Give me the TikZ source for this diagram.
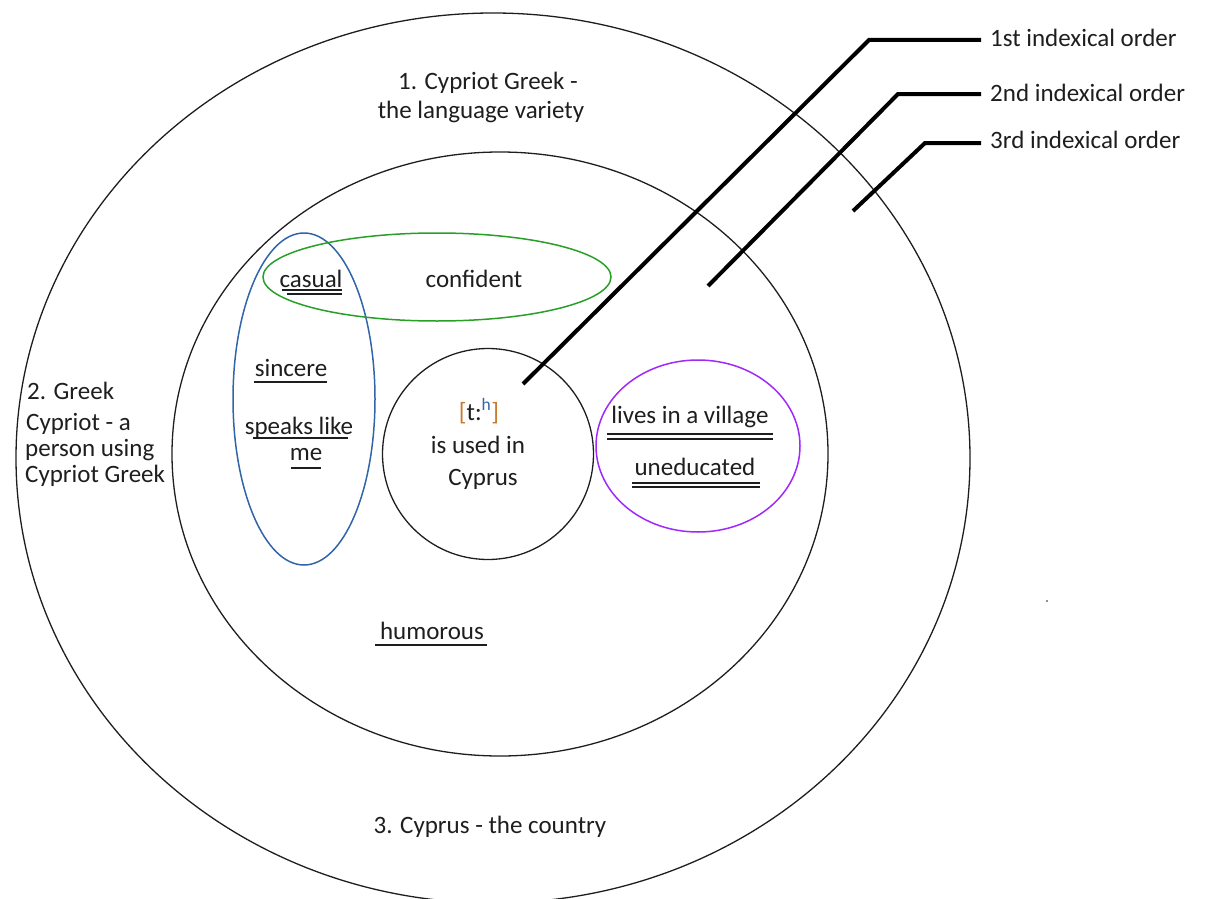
\documentclass[tikz,border=0pt]{standalone}
\usepackage{fontspec}
\setmainfont{Carlito}
\usetikzlibrary{shapes.geometric}
\definecolor{ovblue}{RGB}{50,100,170}
\definecolor{ovgreen}{RGB}{40,160,40}
\definecolor{ovpurple}{RGB}{160,40,250}
\definecolor{brk}{RGB}{200,120,40}
\definecolor{ink}{RGB}{30,30,30}
\begin{document}
\begin{tikzpicture}[x=1pt,y=-1pt,
  font=\fontsize{25}{30}\selectfont, text=ink,
  ring/.style={draw=ink, ellipse, inner sep=0pt, line width=1.3pt},
  oval/.style={draw, ellipse, inner sep=0pt, line width=1.5pt},
  txt/.style={inner sep=0pt, anchor=base},
  lbl/.style={inner sep=0pt, anchor=base west},
  leader/.style={draw=black, line width=4pt},
  uline/.style={draw=ink, line width=1.3pt}]
\clip (0,0) rectangle (1205,899);
% containers
\node[ring, minimum width=954pt, minimum height=890pt] (outer) at (493,458) {};
\node[ring, minimum width=656pt, minimum height=604pt] (inner) at (500,454) {};
\node[ring, circle, minimum size=211pt] (core) at (488,454) {};
\node[oval, draw=ovblue, minimum width=142pt, minimum height=332pt] (blue) at (304,399) {};
\node[oval, draw=ovgreen, minimum width=348pt, minimum height=88pt] (green) at (437,277) {};
\node[oval, draw=ovpurple, minimum width=204pt, minimum height=172pt] (purple) at (698,446) {};
% container labels
\node[txt] (t1a) at (488,89) {1. Cypriot Greek -};
\node[txt] (t1b) at (481,118) {the language variety};
\node[lbl] (t2a) at (27,399) {2. Greek};
\node[lbl] (t2b) at (26,430) {Cypriot - a};
\node[lbl] (t2c) at (25,456) {person using};
\node[lbl] (t2d) at (25,482) {Cypriot Greek};
\node[txt] (t3) at (490,833) {3. Cyprus - the country};
% core
\node[txt] (tha) at (479,420) {\textcolor{brk}{[}t:\textsuperscript{\textcolor{ovblue}{h}}\textcolor{brk}{]}};
\node[txt] (thb) at (478,453) {is used in};
\node[txt] (thc) at (483,485) {Cyprus};
% qualities
\node[txt] (casual) at (311,287) {casual};
\node[txt] (confident) at (474,287) {confident};
\node[txt] (sincere) at (291,376) {sincere};
\node[txt] (speaks) at (299,434) {speaks like};
\node[txt] (me) at (306,460) {me};
\node[txt] (village) at (690,423) {lives in a village};
\node[txt] (uneducated) at (695,475) {uneducated};
\node[txt] (humorous) at (432,639) {humorous};
% underlines
\draw[uline] (282,290) -- (342,290);
\draw[uline] (287,294) -- (342,294);
\draw[uline] (254,382) -- (327,382);
\draw[uline] (253,438) -- (348,438);
\draw[uline] (291,468) -- (321,468);
\draw[uline] (607,434) -- (773,434);
\draw[uline] (607,439) -- (773,439);
\draw[uline] (632,483) -- (760,483);
\draw[uline] (632,487) -- (760,487);
\draw[uline] (375,645) -- (487,645);
% indexical order labels and leaders
\node[lbl] (l1) at (990,47) {1st indexical order};
\node[lbl] (l2) at (990,102) {2nd indexical order};
\node[lbl] (l3) at (990,148) {3rd indexical order};
\coordinate (a1) at (523,384);
\coordinate (k1) at (869,40);
\coordinate (e1) at (981,40);
\coordinate (a2) at (708,286);
\coordinate (k2) at (898,94);
\coordinate (e2) at (981,94);
\coordinate (a3) at (853,211);
\coordinate (k3) at (925,143);
\coordinate (e3) at (981,143);
\draw[leader] (a1) -- (k1) -- (e1);
\draw[leader] (a2) -- (k2) -- (e2);
\draw[leader] (a3) -- (k3) -- (e3);
% stray dot
\fill[ink] (1047,601) circle (0.9pt);
\end{tikzpicture}
\end{document}
